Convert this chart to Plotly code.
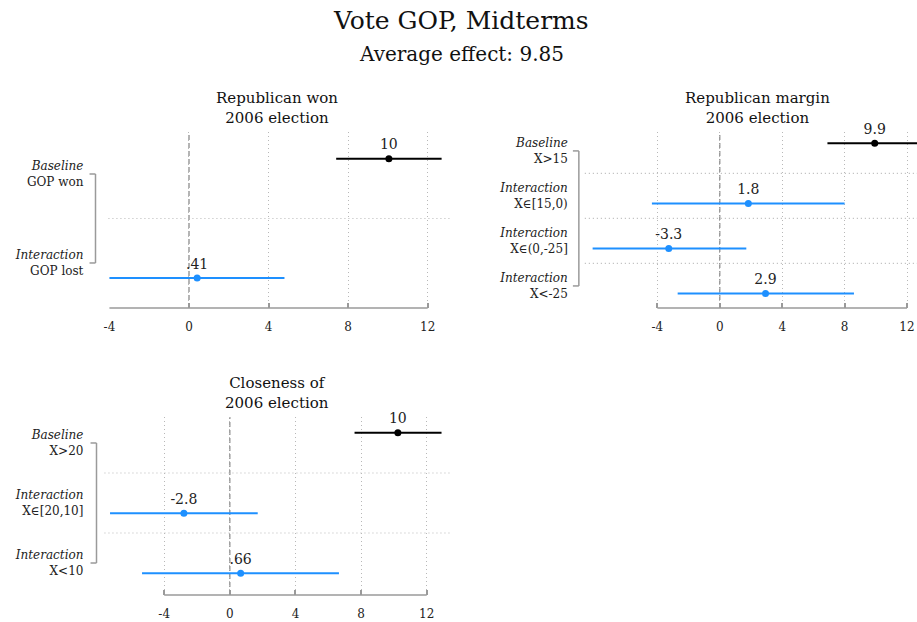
import plotly.graph_objects as go

# ---- data -------------------------------------------------------------
won_kind = ["Baseline", "Interaction"]
won_group = ["GOP won", "GOP lost"]
won_est = [10.05, 0.41]
won_lo = [7.4, -4.0]
won_hi = [12.7, 4.8]

margin_kind = ["Baseline", "Interaction", "Interaction", "Interaction"]
margin_group = ["X&gt;15", "X∈[15,0)", "X∈(0,-25]", "X&lt;-25"]
margin_est = [9.93, 1.83, -3.27, 2.93]
margin_lo = [6.9, -4.35, -8.15, -2.7]
margin_hi = [13.4, 8.0, 1.7, 8.6]

close_kind = ["Baseline", "Interaction", "Interaction"]
close_group = ["X&gt;20", "X∈[20,10]", "X&lt;10"]
close_est = [10.24, -2.8, 0.66]
close_lo = [7.6, -7.3, -5.35]
close_hi = [12.9, 1.7, 6.65]

x_ticks = [-4, 0, 4, 8, 12]
main_title = "Vote GOP, Midterms"
subtitle = "Average effect: 9.85"

# ---- styling ----------------------------------------------------------
W, H = 917, 622
FONT = "DejaVu Serif"
BLUE = "#1E90FF"
BLACK = "#000000"
AXIS_GREY = "#9a9a9a"
GRID_GREY = "#b8b8b8"
DOTS = "1px,3px"
OFFSET = 0.17  # baseline sits above its label row, interactions below


def px(x):
    return x / W


def py(y):
    return 1 - y / H


def fmt(v):
    s = f"{v:.2g}"
    if s.startswith("0."):
        s = s[1:]
    elif s.startswith("-0."):
        s = "-" + s[2:]
    return s


panels = [
    dict(title="Republican won<br>2006 election", kind=won_kind, group=won_group,
         est=won_est, lo=won_lo, hi=won_hi,
         xdom=(104, 447), ydom=(132, 308), xr=(-4.05, 13.1), yr=(1.506, -0.472),
         title_xy=(273, 107.5), bracket_x=91, standoff=24),
    dict(title="Republican margin<br>2006 election", kind=margin_kind, group=margin_group,
         est=margin_est, lo=margin_lo, hi=margin_hi,
         xdom=(583, 917), ydom=(132, 308), xr=(-8.65, 12.64), yr=(3.49, -0.42),
         title_xy=(757, 107.5), bracket_x=577, standoff=16),
    dict(title="Closeness of<br>2006 election", kind=close_kind, group=close_group,
         est=close_est, lo=close_lo, hi=close_hi,
         xdom=(100, 447), ydom=(417, 595), xr=(-7.64, 13.39), yr=(2.533, -0.433),
         title_xy=(273, 392.5), bracket_x=92, standoff=20),
]

fig = go.Figure()
shapes = []
annotations = []

for i, p in enumerate(panels, start=1):
    xa = "x" if i == 1 else f"x{i}"
    ya = "y" if i == 1 else f"y{i}"
    n = len(p["est"])
    rows = list(range(n))
    ypos = [r - OFFSET if k == "Baseline" else r + OFFSET for r, k in zip(rows, p["kind"])]
    colors = [BLACK if k == "Baseline" else BLUE for k in p["kind"]]

    for j in range(n):
        # estimate with its interval (clipped to the panel)
        fig.add_trace(go.Scatter(
            x=[p["est"][j]], y=[ypos[j]], mode="markers",
            marker=dict(color=colors[j], size=7),
            error_x=dict(type="data", symmetric=False,
                         array=[p["hi"][j] - p["est"][j]],
                         arrayminus=[p["est"][j] - p["lo"][j]],
                         color=colors[j], thickness=2, width=0),
            xaxis=xa, yaxis=ya, showlegend=False, hoverinfo="skip",
            cliponaxis=True,
        ))
        # value label above the estimate
        fig.add_trace(go.Scatter(
            x=[p["est"][j]], y=[ypos[j]], mode="markers+text",
            marker=dict(size=8, opacity=0),
            text=[fmt(p["est"][j])], textposition="top center",
            textfont=dict(family=FONT, size=14, color="#222"),
            xaxis=xa, yaxis=ya, showlegend=False, hoverinfo="skip",
            cliponaxis=False,
        ))

    ticktext = [f"<i>{k}</i><br>{g}" for k, g in zip(p["kind"], p["group"])]
    fig.update_layout(**{
        ("xaxis" if i == 1 else f"xaxis{i}"): dict(
            domain=[px(p["xdom"][0]), px(p["xdom"][1])], range=list(p["xr"]),
            anchor=ya, tickvals=x_ticks, ticktext=[str(t) for t in x_ticks],
            showgrid=True, gridcolor=GRID_GREY, griddash=DOTS, gridwidth=1,
            zeroline=False, showline=False, ticks="inside", ticklen=5,
            tickcolor=AXIS_GREY, tickwidth=1.5, ticklabelstandoff=10,
            tickfont=dict(family=FONT, size=12, color="#222"), fixedrange=True,
        ),
        ("yaxis" if i == 1 else f"yaxis{i}"): dict(
            domain=[py(p["ydom"][1]), py(p["ydom"][0])], range=list(p["yr"]),
            anchor=xa, tickvals=rows, ticktext=ticktext, ticks="",
            showgrid=False, zeroline=False, showline=False,
            ticklabelstandoff=p["standoff"],
            tickfont=dict(family=FONT, size=12, color="#222"), fixedrange=True,
        ),
    })

    # x axis line spanning the tick range
    shapes.append(dict(type="line", xref=xa, yref=f"{ya} domain",
                       x0=x_ticks[0], x1=x_ticks[-1], y0=0, y1=0,
                       line=dict(color=AXIS_GREY, width=1.5)))
    # dashed reference line at zero, beneath the estimates and labels
    shapes.append(dict(type="line", xref=xa, yref=f"{ya} domain", layer="below",
                       x0=0, x1=0, y0=0, y1=1,
                       line=dict(color="#8c8c8c", width=1.3, dash="5px,3px")))
    # dotted separators between rows
    for r in range(n - 1):
        shapes.append(dict(type="line", xref=f"{xa} domain", yref=ya, layer="below",
                           x0=0, x1=1, y0=r + 0.5, y1=r + 0.5,
                           line=dict(color=GRID_GREY, width=1.2, dash=DOTS)))
    # bracket joining the row labels
    bx = px(p["bracket_x"])
    tick = px(6)
    shapes.append(dict(type="line", xref="paper", yref=ya, x0=bx, x1=bx,
                       y0=0, y1=n - 1, line=dict(color=AXIS_GREY, width=1.5)))
    for r in (0, n - 1):
        shapes.append(dict(type="line", xref="paper", yref=ya, x0=bx - tick, x1=bx,
                           y0=r, y1=r, line=dict(color=AXIS_GREY, width=1.5)))

    tx, ty = p["title_xy"]
    annotations.append(dict(text=p["title"], x=px(tx), y=py(ty), xref="paper", yref="paper",
                            xanchor="center", yanchor="middle", showarrow=False,
                            font=dict(family=FONT, size=15, color="#111")))

annotations.append(dict(text=main_title, x=0.5, y=py(20), xref="paper", yref="paper",
                        xanchor="center", yanchor="middle", showarrow=False,
                        font=dict(family=FONT, size=25, color="#111")))
annotations.append(dict(text=subtitle, x=0.5, y=py(54), xref="paper", yref="paper",
                        xanchor="center", yanchor="middle", showarrow=False,
                        font=dict(family=FONT, size=20, color="#111")))

fig.update_layout(
    width=W, height=H, margin=dict(l=0, r=0, t=0, b=0),
    paper_bgcolor="white", plot_bgcolor="white",
    shapes=shapes, annotations=annotations,
    font=dict(family=FONT, color="#222"),
)

fig.write_html("out.html")
